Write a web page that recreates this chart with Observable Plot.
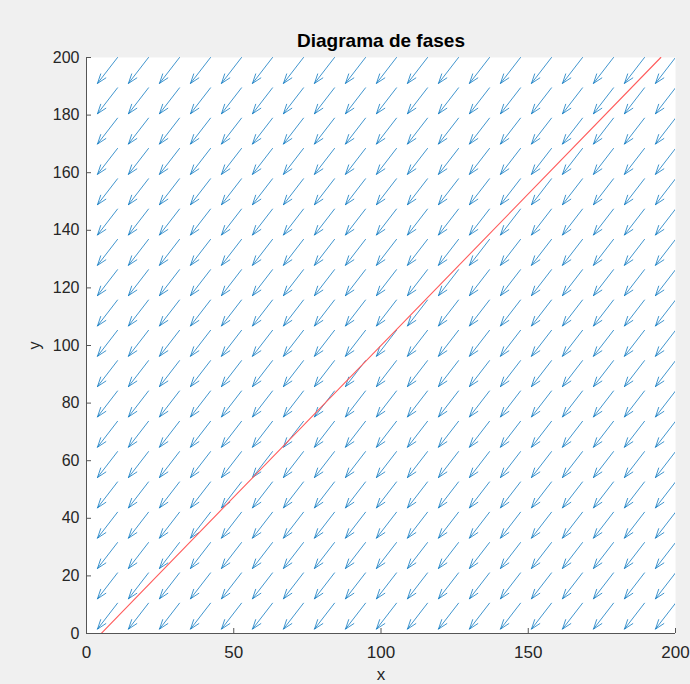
<!DOCTYPE html>
<html>
<head>
<meta charset="utf-8">
<script src="https://cdn.jsdelivr.net/npm/d3@7"></script>
<script src="https://cdn.jsdelivr.net/npm/@observablehq/plot@0.6"></script>
<style>
  html, body { margin: 0; padding: 0; background: #f0f0f0; }
  #chart { width: 690px; height: 684px; }
  svg { font-family: "Liberation Sans", Arial, Helvetica, sans-serif; }
</style>
</head>
<body>
<div id="chart"></div>
<script>
// Grid positions of the arrow tails (x and y)
const gridX = [10.53, 21.05, 31.58, 42.11, 52.63, 63.16, 73.68, 84.21, 94.74, 105.26,
               115.79, 126.32, 136.84, 147.37, 157.89, 168.42, 178.95, 189.47, 200];
const gridY = [10.53, 21.05, 31.58, 42.11, 52.63, 63.16, 73.68, 84.21, 94.74, 105.26,
               115.79, 126.32, 136.84, 147.37, 157.89, 168.42, 178.95, 189.47, 200];
// Displayed vector components (data units), same at every grid point
const vecU = -6.8;
const vecV = -9.0;
// Red line (nullcline) endpoints
const lineX = [5, 195];
const lineY = [0, 200];
// Tick labels
const xTicks = [0, 50, 100, 150, 200];
const yTicks = [0, 20, 40, 60, 80, 100, 120, 140, 160, 180, 200];
const titleText = "Diagrama de fases";

const arrows = [];
for (const x of gridX) for (const y of gridY) arrows.push({x, y, u: vecU, v: vecV});
const lineData = lineX.map((x, i) => ({x, y: lineY[i]}));

const axisColor = "#262626";

const chart = Plot.plot({
  width: 690,
  height: 684,
  marginLeft: 86,
  marginRight: 15,
  marginTop: 57,
  marginBottom: 51,
  style: {background: "#f0f0f0", fontSize: "16px", fontFamily: "'Liberation Sans', Arial, sans-serif", color: axisColor},
  x: {domain: [0, 200], label: null},
  y: {domain: [0, 200], label: null},
  marks: [
    Plot.frame({fill: "white", stroke: null}),
    Plot.arrow(arrows, {
      x1: "x", y1: "y",
      x2: d => d.x + d.u, y2: d => d.y + d.v,
      stroke: "#0072BD", strokeWidth: 1, strokeOpacity: 0.75,
      headLength: 15, headAngle: 38, clip: true
    }),
    Plot.line(lineData, {x: "x", y: "y", stroke: "#ff5c5c", strokeWidth: 1.1, clip: true}),
    Plot.ruleX([0], {stroke: "#555", strokeWidth: 1}),
    Plot.ruleY([0], {stroke: "#555", strokeWidth: 1}),
    Plot.axisX({ticks: xTicks, tickSize: -5, tickPadding: 17, stroke: "#555", fill: axisColor,
                label: "x", labelAnchor: "center", labelArrow: "none", labelOffset: 46, fontSize: 17}),
    Plot.axisY({ticks: yTicks, tickSize: -5, tickPadding: 12, stroke: "#555", fill: axisColor,
                label: "y", labelAnchor: "center", labelArrow: "none", labelOffset: 58, fontSize: 16}),
    Plot.text([titleText], {frameAnchor: "top", dy: -11, lineAnchor: "bottom",
                            fontSize: 19, fontWeight: "bold", fill: "#000"})
  ]
});
document.getElementById("chart").appendChild(chart);
</script>
</body>
</html>
